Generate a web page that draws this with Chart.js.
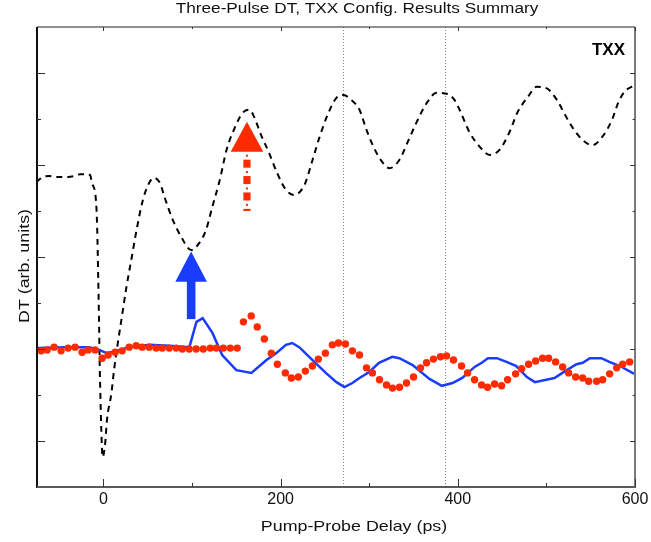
<!DOCTYPE html>
<html>
<head>
<meta charset="utf-8">
<script src="https://cdn.jsdelivr.net/npm/chart.js@4/dist/chart.umd.min.js"></script>
<style>
  html, body { margin: 0; padding: 0; background: #fff; }
  #wrap { width: 651px; height: 542px; }
</style>
</head>
<body>
<div id="wrap"><canvas id="c" width="651" height="542"></canvas></div>
<script>
// Three-pulse differential transmission, TXX configuration

// Pump-probe delay axis (ps)
const xMin = -75;
const xMax = 600;
const xMajorTicks = [0, 200, 400, 600];
const xMinorTicks = [100, 300, 500];

// Arbitrary DT units
const yMin = 0;
const yMax = 10;
const yTicksLong = [1, 3, 5, 7, 9];
const yTicksShort = [2, 4, 6, 8];

// Reference delays marked with dotted lines (ps)
const markerDelays = [270, 385];

// Dashed trace (upper curve)
const dashedDelay = [-76, -68, -61, -54, -47, -40, -33, -26, -20, -15, -13, -8.5, -7, -6, -5, -4.2, -3.5, -2.5, -1,
  2, 4, 9, 12, 16, 20, 26, 32, 38, 44, 50, 57, 64, 69, 78, 88, 99, 108, 116, 123, 131, 139, 148, 157, 165, 170,
  178, 187, 196, 206, 215, 227, 236, 244, 253, 263, 271, 280, 289, 297, 304, 313, 323, 334, 343, 353, 365, 376,
  389, 396, 402, 413, 425, 436, 447, 458, 467, 479, 489, 500, 512, 521, 530, 541, 552, 563, 574, 581, 588, 600];
const dashedDT = [6.63, 6.74, 6.76, 6.74, 6.74, 6.74, 6.76, 6.8, 6.8, 6.78, 6.61, 6.24, 5.59, 4.65, 3.63, 2.61, 2.04, 1.3, 0.65,
  0.96, 1.46, 2.04, 2.55, 3.1, 3.6, 4.35, 5.0, 5.65, 6.2, 6.55, 6.72, 6.6, 6.3, 5.82, 5.43, 5.15, 5.3, 5.6, 6.1, 6.65, 7.33, 7.8, 8.13, 8.2, 8.05,
  7.65, 7.26, 6.83, 6.46, 6.35, 6.57, 7.11, 7.61, 8.09, 8.46, 8.52, 8.41, 8.2, 7.76, 7.43, 7.11, 6.93, 7.11, 7.48, 7.91, 8.35, 8.57,
  8.54, 8.42, 8.2, 7.72, 7.39, 7.22, 7.33, 7.7, 8.13, 8.48, 8.7, 8.67, 8.41, 8.09, 7.8, 7.54, 7.43, 7.61, 7.98, 8.35, 8.59, 8.74];

// Solid blue trace
const blueDelay = [-76, -42, -16, -5, 4, 14, 29, 52, 74, 97, 105, 112, 123, 134, 150, 167, 184, 195, 206, 213, 221,
  236, 251, 263, 272, 281, 289, 300, 311, 326, 334, 349, 368, 382, 394, 405, 419, 427, 434, 444, 455, 466, 478,
  487, 509, 523, 534, 541, 549, 562, 571, 583, 597, 600];
const blueDT = [3.02, 3.04, 3.04, 2.98, 2.91, 2.96, 3.04, 3.09, 3.07, 3.04, 3.59, 3.67, 3.35, 2.87, 2.54, 2.48, 2.76, 2.91, 3.09, 3.13, 3.04,
  2.76, 2.48, 2.28, 2.17, 2.26, 2.37, 2.5, 2.7, 2.83, 2.8, 2.65, 2.35, 2.2, 2.26, 2.37, 2.61, 2.7, 2.8, 2.8, 2.72, 2.63, 2.39,
  2.28, 2.37, 2.54, 2.67, 2.7, 2.8, 2.8, 2.72, 2.63, 2.48, 2.46];

// Red measured points
const redDelay = [-70.4, -63.6, -55.7, -47.8, -39.9, -32.0, -24.1, -17.3, -9.4, -1.5, 5.3, 13.2, 21.1, 29.0, 37.0, 43.7,
  51.6, 59.5, 66.3, 74.2, 82.1, 89.0, 96.8, 104.7, 112.7, 120.6, 127.3, 135.3, 143.2, 151.0, 158.0, 166.8, 173.6,
  181.6, 189.5, 196.3, 205.3, 212.1, 220.0, 227.9, 235.8, 242.6, 250.5, 258.4, 265.2, 273.1, 281.0, 289.0, 296.9,
  303.6, 311.6, 319.5, 326.3, 334.2, 342.1, 350.0, 357.9, 364.7, 372.5, 380.5, 387.2, 395.1, 404.2, 411.0, 418.9,
  426.8, 433.6, 441.5, 449.4, 456.2, 465.2, 472.0, 479.9, 487.8, 495.7, 502.5, 510.4, 518.3, 525.1, 533.0, 540.9,
  547.7, 556.7, 563.5, 571.4, 579.3, 586.1, 594.0];
const redDT = [2.96, 2.98, 3.04, 2.96, 3.02, 3.04, 2.93, 2.98, 2.98, 2.8, 2.87, 2.93, 2.96, 3.04, 3.07, 3.04,
  3.04, 3.02, 3.02, 3.02, 3.02, 3.0, 3.0, 3.0, 3.0, 3.02, 3.02, 3.02, 3.02, 3.02, 3.59, 3.72, 3.48,
  3.22, 2.91, 2.67, 2.48, 2.37, 2.39, 2.52, 2.63, 2.78, 2.91, 3.09, 3.13, 3.11, 2.96, 2.87, 2.59,
  2.48, 2.33, 2.22, 2.15, 2.17, 2.26, 2.39, 2.59, 2.7, 2.78, 2.83, 2.85, 2.76, 2.63, 2.48, 2.33,
  2.22, 2.17, 2.24, 2.2, 2.33, 2.46, 2.57, 2.67, 2.74, 2.8, 2.8, 2.72, 2.61, 2.48, 2.39, 2.37,
  2.3, 2.3, 2.33, 2.46, 2.59, 2.67, 2.72];

// Arrows: delay, shaft start, head base, tip (DT units)
const blueArrow = { delay: 99, from: 3.65, base: 4.46, tip: 5.12 };
const redArrow = { delay: 162, from: 6.0, base: 7.29, tip: 7.94 };

// Text
const chartTitle = 'Three-Pulse DT, TXX Config. Results Summary';
const xTitle = 'Pump-Probe Delay (ps)';
const yTitle = 'DT (arb. units)';
const configTag = 'TXX';

const FONT = '"Liberation Sans", Arial, Helvetica, sans-serif';
const RED = '#ff2a00';
const BLUE = '#1a3cff';
const TEXT_STRETCH = 1.23;

const pairs = (xs, ys) => xs.map((x, i) => ({ x: x, y: ys[i] }));

// horizontally widened text, as set in the original figure
function wideText(ctx, text, x, y, angle) {
  ctx.save();
  ctx.translate(x, y);
  if (angle) ctx.rotate(angle);
  ctx.scale(TEXT_STRETCH, 1);
  ctx.textAlign = 'center';
  ctx.textBaseline = 'alphabetic';
  ctx.fillText(text, 0, 0);
  ctx.restore();
}

const framePlugin = {
  id: 'frame',
  beforeDatasetsDraw(chart) {
    const { ctx, chartArea: a, scales: { x } } = chart;
    ctx.save();
    ctx.strokeStyle = '#8a8a8a';
    ctx.lineWidth = 1;
    ctx.setLineDash([1, 2]);
    markerDelays.forEach(d => {
      const px = Math.round(x.getPixelForValue(d)) + 0.5;
      ctx.beginPath();
      ctx.moveTo(px, a.top);
      ctx.lineTo(px, a.bottom);
      ctx.stroke();
    });
    ctx.restore();
  },
  afterDatasetsDraw(chart) {
    const { ctx, chartArea: a, scales: { x, y } } = chart;
    ctx.save();

    const drawHead = (cx, base, tip, halfW, color) => {
      ctx.fillStyle = color;
      ctx.beginPath();
      ctx.moveTo(cx, tip);
      ctx.lineTo(cx + halfW, base);
      ctx.lineTo(cx - halfW, base);
      ctx.closePath();
      ctx.fill();
    };

    // blue arrow
    let cx = x.getPixelForValue(blueArrow.delay);
    let yFrom = y.getPixelForValue(blueArrow.from);
    let yBase = y.getPixelForValue(blueArrow.base);
    let yTip = y.getPixelForValue(blueArrow.tip);
    ctx.fillStyle = BLUE;
    ctx.fillRect(cx - 4.3, yBase - 1, 8.6, yFrom - yBase + 1);
    drawHead(cx, yBase, yTip, 15.8, BLUE);

    // red arrow with broken shaft
    cx = x.getPixelForValue(redArrow.delay);
    yFrom = y.getPixelForValue(redArrow.from);
    yBase = y.getPixelForValue(redArrow.base);
    yTip = y.getPixelForValue(redArrow.tip);
    drawHead(cx, yBase, yTip, 16.3, RED);
    ctx.fillStyle = RED;
    for (let yy = yBase + 8; yy < yFrom; yy += 16.4) {
      ctx.fillRect(cx - 3.6, yy, 7.2, Math.min(8, yFrom - yy));
    }
    for (let yy = yBase + 3; yy < yFrom - 2; yy += 16.4) {
      ctx.fillRect(cx - 1, yy, 2, 2);
    }

    // axis frame
    ctx.lineWidth = 2;
    ctx.strokeStyle = '#111';
    ctx.beginPath(); ctx.moveTo(a.left, a.top); ctx.lineTo(a.left, a.bottom + 1); ctx.stroke();
    ctx.strokeStyle = '#5a5a5a';
    ctx.beginPath(); ctx.moveTo(a.left, a.bottom); ctx.lineTo(a.right + 1, a.bottom); ctx.stroke();
    ctx.strokeStyle = '#7a7a7a';
    ctx.beginPath(); ctx.moveTo(a.right, a.top); ctx.lineTo(a.right, a.bottom); ctx.stroke();
    ctx.lineWidth = 1.2;
    ctx.strokeStyle = '#222';
    ctx.beginPath(); ctx.moveTo(a.left, a.top); ctx.lineTo(a.right, a.top); ctx.stroke();

    // inward tick marks
    ctx.lineWidth = 1;
    ctx.strokeStyle = '#333';
    const hTick = (v, len) => {
      const py = Math.round(y.getPixelForValue(v)) + 0.5;
      ctx.beginPath(); ctx.moveTo(a.left, py); ctx.lineTo(a.left + len, py); ctx.stroke();
      ctx.beginPath(); ctx.moveTo(a.right, py); ctx.lineTo(a.right - len * 0.6, py); ctx.stroke();
    };
    yTicksLong.forEach(v => hTick(v, 8));
    yTicksShort.forEach(v => hTick(v, 4));
    const vTick = (v, len) => {
      const px = Math.round(x.getPixelForValue(v)) + 0.5;
      ctx.beginPath(); ctx.moveTo(px, a.bottom); ctx.lineTo(px, a.bottom - len); ctx.stroke();
      ctx.beginPath(); ctx.moveTo(px, a.top); ctx.lineTo(px, a.top + len * 0.5); ctx.stroke();
    };
    xMajorTicks.forEach(v => vTick(v, 8));
    xMinorTicks.forEach(v => vTick(v, 4));

    // configuration tag
    ctx.fillStyle = '#000';
    ctx.font = 'bold 17px ' + FONT;
    ctx.textAlign = 'right';
    ctx.textBaseline = 'middle';
    ctx.fillText(configTag, a.right - 10, a.top + 23);

    // title and axis titles
    ctx.fillStyle = '#111';
    ctx.font = '14px ' + FONT;
    wideText(ctx, chartTitle, 357, 12.6, 0);
    ctx.font = '14.5px ' + FONT;
    wideText(ctx, xTitle, 354, 530.5, 0);
    wideText(ctx, yTitle, 28.8, 266, -Math.PI / 2);
    ctx.restore();
  }
};

new Chart(document.getElementById('c'), {
  type: 'line',
  data: {
    datasets: [
      {
        label: 'Measured',
        data: pairs(redDelay, redDT),
        showLine: false,
        pointRadius: 3.7,
        pointBackgroundColor: RED,
        pointBorderWidth: 0,
        borderColor: RED
      },
      {
        label: 'Blue',
        data: pairs(blueDelay, blueDT),
        borderColor: BLUE,
        borderWidth: 2.5,
        pointRadius: 0,
        tension: 0
      },
      {
        label: 'Dashed',
        data: pairs(dashedDelay, dashedDT),
        borderColor: '#000',
        borderWidth: 2,
        borderDash: [6, 5],
        pointRadius: 0,
        cubicInterpolationMode: 'monotone'
      }
    ]
  },
  options: {
    responsive: false,
    animation: false,
    events: [],
    layout: { padding: { left: 0, right: 16, top: 27, bottom: 0 } },
    plugins: {
      legend: { display: false },
      tooltip: { enabled: false },
      title: { display: false }
    },
    scales: {
      x: {
        type: 'linear',
        min: xMin,
        max: xMax,
        afterBuildTicks: s => { s.ticks = xMajorTicks.map(v => ({ value: v })); },
        afterFit: s => { s.height = 55; s.paddingLeft = 0; s.paddingRight = 0; },
        grid: { display: false, drawTicks: false },
        border: { display: false },
        ticks: {
          color: '#111',
          font: { family: FONT, size: 16 },
          padding: 3,
          maxRotation: 0,
          autoSkip: false
        },
        title: { display: false }
      },
      y: {
        type: 'linear',
        min: yMin,
        max: yMax,
        afterFit: s => { s.width = 37; },
        grid: { display: false, drawTicks: false },
        border: { display: false },
        ticks: { display: false },
        title: { display: false }
      }
    }
  },
  plugins: [framePlugin]
});
</script>
</body>
</html>
